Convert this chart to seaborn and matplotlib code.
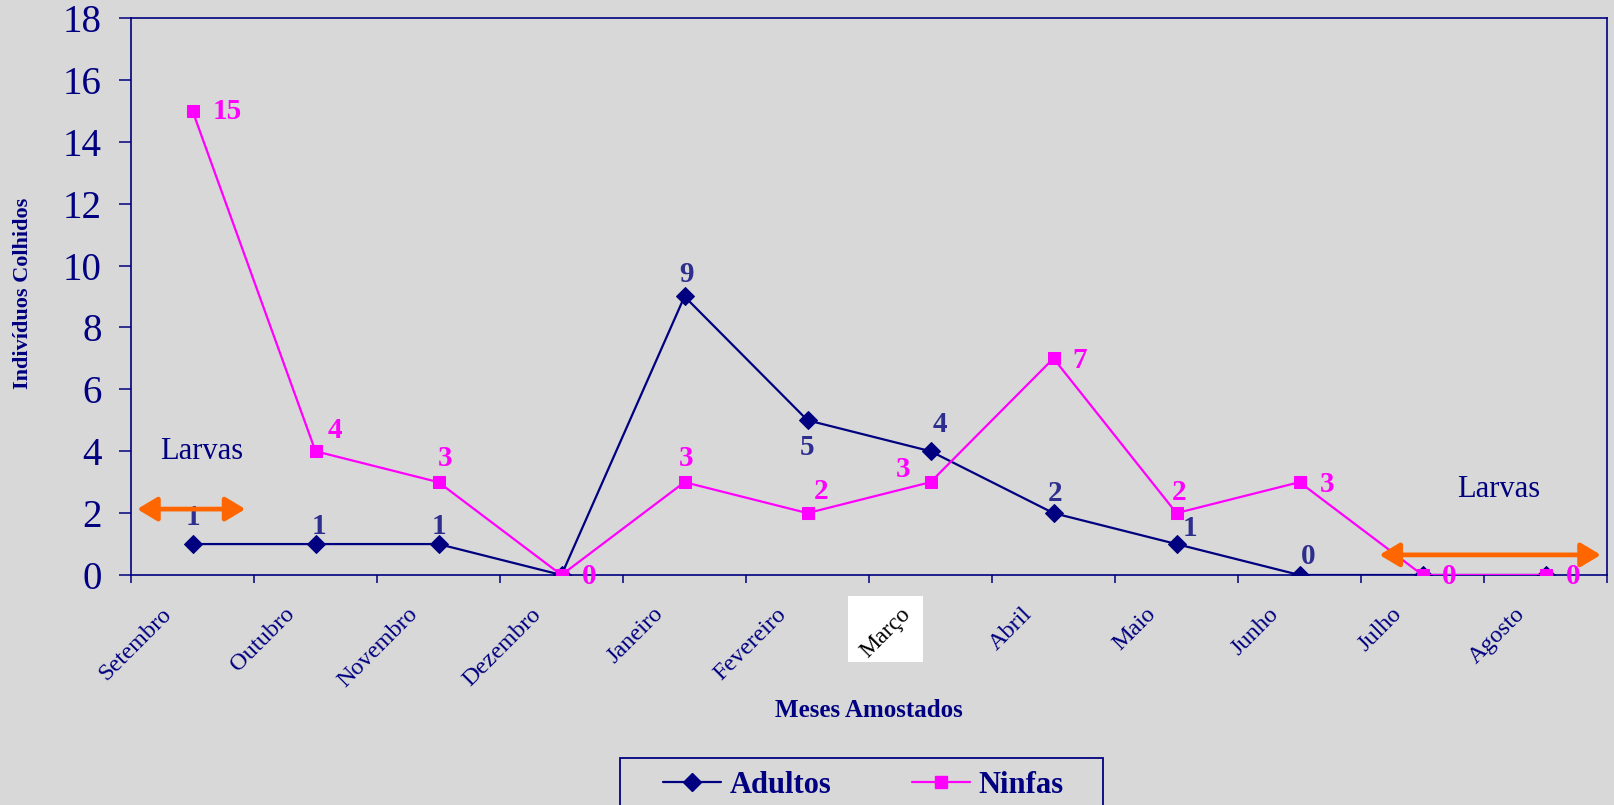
import numpy as np
import pandas as pd
import matplotlib
matplotlib.use("Agg")
import matplotlib.pyplot as plt
import seaborn as sns
from matplotlib.transforms import ScaledTranslation
from matplotlib.patches import Rectangle
from matplotlib.lines import Line2D

# ---- data ----
meses = ["Setembro", "Outubro", "Novembro", "Dezembro", "Janeiro", "Fevereiro",
         "Março", "Abril", "Maio", "Junho", "Julho", "Agosto"]
adultos = [1, 1, 1, 0, 9, 5, 4, 2, 1, 0, 0, 0]
ninfas = [15, 4, 3, 0, 3, 2, 3, 7, 2, 3, 0, 0]
y_ticks = [0, 2, 4, 6, 8, 10, 12, 14, 16, 18]
adultos_rotulos = ["1", "1", "1", None, "9", "5", "4", "2", "1", "0", None, None]
ninfas_rotulos = ["15", "4", "3", "0", "3", "2", "3", "7", "2", "3", "0", "0"]

# ---- styles ----
BG = "#D8D8D8"
NAVY = "#000080"
LBL_NAVY = "#2E2E8E"
MAG = "#FF00FF"
ORANGE = "#FF6600"
adult_off = [(0, 27), (3, 18), (0, 18), None, (2, 22), (0, -27), (9, 27), (2, 20),
             (13, 16), (9, 19), None, None]
ninfa_off = [(35, -1), (19, 21), (7, 24), (28, -1), (2, 24), (14, 22), (-27, 13),
             (26, -2), (3, 21), (28, -2), (27, -1), (28, -1)]

sns.set_theme(style="ticks")
plt.rcParams["font.family"] = ["Liberation Serif", "DejaVu Serif"]

W, H = 1614, 805
fig = plt.figure(figsize=(W / 100, H / 100), dpi=100, facecolor=BG)
ax = fig.add_axes([131 / W, 1 - 575 / H, 1476 / W, 557 / H])
ax.set_facecolor(BG)

pos = np.arange(len(meses)) + 0.5
df = pd.DataFrame({"pos": pos, "Adultos": adultos, "Ninfas": ninfas})

sns.lineplot(data=df, x="pos", y="Adultos", ax=ax, color=NAVY, marker="D",
             markersize=9, markeredgecolor=NAVY, linewidth=1.6, zorder=3)
sns.lineplot(data=df, x="pos", y="Ninfas", ax=ax, color=MAG, marker="s",
             markersize=8.5, markeredgecolor=MAG, linewidth=1.6, zorder=4)

ax.set_xlim(0, 12)
ax.set_ylim(0, 18)

# y axis
ax.set_yticks(y_ticks)
ax.set_yticklabels([str(t) for t in y_ticks])
ax.tick_params(axis="y", which="major", length=9, width=1.1, color=NAVY,
               labelsize=28, labelcolor=NAVY, pad=12, direction="out", left=True)

# x axis
ax.set_xticks(pos)
ax.set_xticklabels(meses)
ax.set_xticks(np.arange(0, 13), minor=True)
ax.tick_params(axis="x", which="major", length=0, labelsize=17.5, labelcolor=NAVY, pad=26)
ax.tick_params(axis="x", which="minor", length=6, width=1.1, color=NAVY,
               direction="out", bottom=True)
for lab in ax.get_xticklabels():
    lab.set_rotation(45)
    lab.set_va("center")
    lab.set_rotation_mode("anchor")
    if lab.get_text() == "Março":
        lab.set_ha("center")
        lab.set_color("black")
        lab.set_fontsize(17)
        lab.set_zorder(5)
        lab.set_transform(lab.get_transform() + ScaledTranslation(-0.45, -0.22, fig.dpi_scale_trans))
    else:
        lab.set_ha("right")
        lab.set_transform(lab.get_transform() + ScaledTranslation(-0.24, 0, fig.dpi_scale_trans))

# white box behind "Março"
fig.patches.append(Rectangle((848 / W, 1 - 662 / H), 75 / W, 66 / H,
                             transform=fig.transFigure, facecolor="white",
                             edgecolor="none", zorder=-1))

for sp in ax.spines.values():
    sp.set_visible(True)
    sp.set_color(NAVY)
    sp.set_linewidth(1.2)

ax.set_xlabel("Meses Amostados", fontsize=18, fontweight="bold", color=NAVY)
ax.xaxis.set_label_coords(0.5, -0.244)
ax.xaxis.label.set_va("center")
ax.set_ylabel("Indivíduos Colhidos", fontsize=16, fontweight="bold", color=NAVY)
ax.yaxis.set_label_coords(-0.073, 0.506)
ax.yaxis.label.set_va("center")

# data labels
for i in range(len(meses)):
    if adultos_rotulos[i] is not None:
        dx, dy = adult_off[i]
        ax.annotate(adultos_rotulos[i], (pos[i], adultos[i]), xytext=(dx, dy),
                    textcoords="offset pixels", ha="center", va="center",
                    fontsize=21, fontweight="bold", color=LBL_NAVY, zorder=5,
                    annotation_clip=False)
    if ninfas_rotulos[i] is not None:
        dx, dy = ninfa_off[i]
        ax.annotate(ninfas_rotulos[i], (pos[i], ninfas[i]), xytext=(dx, dy),
                    textcoords="offset pixels", ha="center", va="center",
                    fontsize=21, fontweight="bold", color=MAG, zorder=5,
                    annotation_clip=False)

# Larvas annotations
ax.text(0.24, 4.0, "Larvas", fontsize=22, color=NAVY, ha="left", va="center", zorder=5)
ax.text(10.78, 2.75, "Larvas", fontsize=22, color=NAVY, ha="left", va="center", zorder=5)
arrow_kw = dict(arrowstyle="<|-|>,head_length=1.0,head_width=0.6", color=ORANGE,
                lw=3.4, shrinkA=0, shrinkB=0)
ax.annotate("", xy=(0.05, 2.13), xytext=(0.93, 2.13), arrowprops=arrow_kw,
            zorder=6, annotation_clip=False)
ax.annotate("", xy=(10.15, 0.65), xytext=(11.95, 0.65), arrowprops=arrow_kw,
            zorder=6, annotation_clip=False)

# legend
fig.patches.append(Rectangle((620 / W, -0.05), (1103 - 620) / W, 0.05 + (1 - 758 / H),
                             transform=fig.transFigure, facecolor="none",
                             edgecolor=NAVY, linewidth=1.3, zorder=2))
handles = [Line2D([], [], color=NAVY, marker="D", markersize=9, linewidth=1.6),
           Line2D([], [], color=MAG, marker="s", markersize=8.5, linewidth=1.6)]
leg = fig.legend(handles, ["Adultos", "Ninfas"], loc="center left",
                 bbox_to_anchor=(663 / W, 1 - 785 / H), ncol=2, frameon=False,
                 borderpad=0, borderaxespad=0, handlelength=1.9, handletextpad=0.27,
                 columnspacing=2.65, prop=dict(family="Liberation Serif", weight="bold", size=22))
for t in leg.get_texts():
    t.set_color(NAVY)

fig.savefig("out.png", dpi=100, facecolor=BG)
